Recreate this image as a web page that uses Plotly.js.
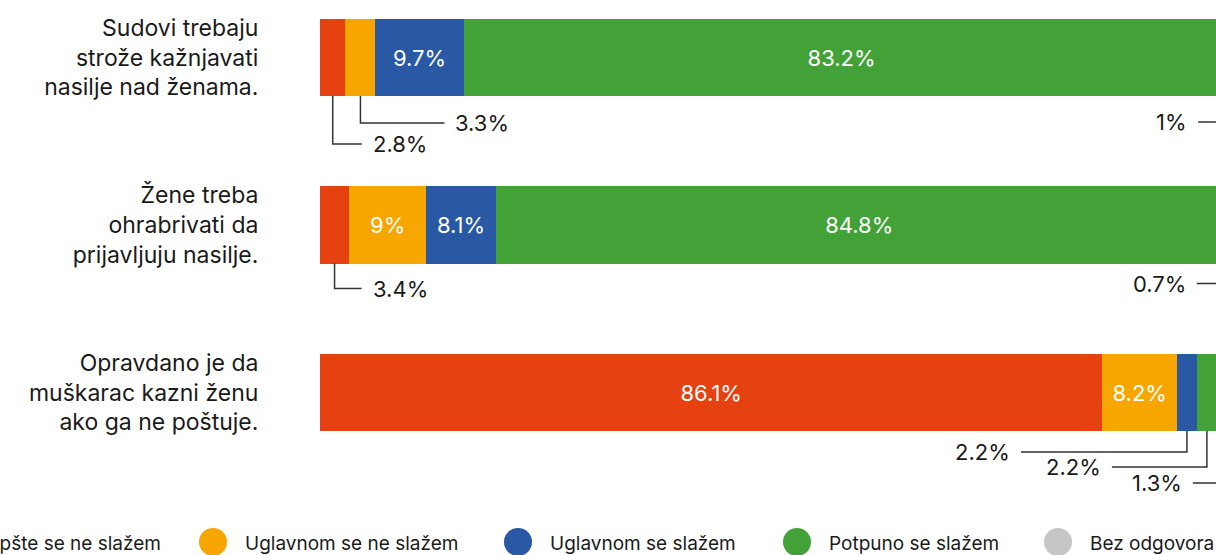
<!DOCTYPE html>
<html><head><meta charset="utf-8">
<script src="https://cdn.plot.ly/plotly-3.0.1.min.js"></script>
<style>html,body{margin:0;padding:0;overflow:hidden;background:#fff}#chart{width:1216px;height:555px}</style>
</head><body><div id="chart"></div>
<script>
// ---- data ----
const categories = [
  "Sudovi trebaju<br>strože kažnjavati<br>nasilje nad ženama.",
  "Žene treba<br>ohrabrivati da<br>prijavljuju nasilje.",
  "Opravdano je da<br>muškarac kazni ženu<br>ako ga ne poštuje."
];
const seriesNames = ["Uopšte se ne slažem", "Uglavnom se ne slažem", "Uglavnom se slažem", "Potpuno se slažem", "Bez odgovora"];
const uopsteNe   = [2.8, 3.4, 86.1];
const uglavnomNe = [3.3, 9, 8.2];
const uglavnomDa = [9.7, 8.1, 2.2];
const potpunoDa  = [83.2, 84.8, 2.2];
const bezOdgovora = [1, 0.7, 1.3];

// ---- style / layout ----
const seriesColors = ['#E54111', '#F7A600', '#2959A4', '#43A237', '#C6C6C6'];
const FONT = 'Inter, "Open Sans", sans-serif';
const W = 1216, H = 555, plotLeft = 320;
const xMax = 98.6;
const yTop = -0.3433, yBottom = 2.9701;
const barWidth = 0.46;
const dxPerPx = xMax / (W - plotLeft);
const dyPerPx = (yBottom - yTop) / H;

// leader-line placement (pixels) for small segments
const leaders = [
  {bar: 0, s: 0, drop: 48, run: 29},
  {bar: 0, s: 1, drop: 27, run: 84},
  {bar: 0, s: 4, drop: 26, run: -26},
  {bar: 1, s: 0, drop: 25, run: 27},
  {bar: 1, s: 4, drop: 20, run: -29},
  {bar: 2, s: 2, drop: 21, run: -166},
  {bar: 2, s: 3, drop: 36, run: -95},
  {bar: 2, s: 4, drop: 52, run: -30}
];
// legend placement (pixel centers of the circles)
const legendCx = [-58, 213, 518, 797, 1058];
const legendCy = 542, legendR = 14;

const seriesValues = [uopsteNe, uglavnomNe, uglavnomDa, potpunoDa, bezOdgovora];
const totals = categories.map((c, i) => seriesValues.reduce((s, arr) => s + arr[i], 0));

const traces = seriesValues.map((vals, k) => ({
  type: 'bar', orientation: 'h', y: categories, x: vals, name: seriesNames[k],
  marker: {color: seriesColors[k], line: {width: 0}},
  width: barWidth,
  text: vals.map(v => v >= 5 ? v + '%' : ''),
  textposition: 'inside', insidetextanchor: 'middle', textangle: 0,
  insidetextfont: {family: FONT, size: 22, color: '#ffffff'},
  hoverinfo: 'skip', showlegend: false
}));

const shapes = [], annotations = [];
leaders.forEach(L => {
  let before = 0;
  for (let k = 0; k < L.s; k++) before += seriesValues[k][L.bar];
  const val = seriesValues[L.s][L.bar];
  const cx = (before + val / 2) / totals[L.bar] * 100;
  const yb = L.bar + barWidth / 2;
  const yd = yb + L.drop * dyPerPx;
  const xe = cx + L.run * dxPerPx;
  shapes.push({type: 'path', xref: 'x', yref: 'y',
    path: `M ${cx} ${yb} L ${cx} ${yd} L ${xe} ${yd}`,
    line: {color: '#333333', width: 1.5}});
  annotations.push({xref: 'x', yref: 'y', x: xe + Math.sign(L.run) * 9 * dxPerPx, y: yd,
    xanchor: L.run > 0 ? 'left' : 'right', yanchor: 'middle', showarrow: false,
    text: val + '%', font: {family: FONT, size: 22, color: '#1a1a1a'}});
});

seriesNames.forEach((n, k) => {
  const cx = legendCx[k];
  shapes.push({type: 'circle', xref: 'paper', yref: 'paper',
    x0: (cx - legendR) / W, x1: (cx + legendR) / W,
    y0: 1 - (legendCy + legendR) / H, y1: 1 - (legendCy - legendR) / H,
    fillcolor: seriesColors[k], line: {width: 0}});
  annotations.push({xref: 'paper', yref: 'paper', x: (cx + 30) / W, y: 1 - (legendCy + 1) / H,
    xanchor: 'left', yanchor: 'middle', showarrow: false, text: n,
    font: {family: FONT, size: 19, color: '#1a1a1a'}});
});

const layout = {
  width: W, height: H, margin: {l: 0, r: 0, t: 0, b: 0},
  paper_bgcolor: '#ffffff', plot_bgcolor: '#ffffff',
  barmode: 'stack', barnorm: 'percent',
  font: {family: FONT, color: '#1a1a1a'},
  xaxis: {domain: [plotLeft / W, 1], range: [0, xMax], showgrid: false, zeroline: false,
    showticklabels: false, showline: false, fixedrange: true},
  yaxis: {type: 'category', range: [yBottom, yTop], showgrid: false, zeroline: false, showline: false,
    ticks: 'outside', ticklen: 56, tickcolor: 'rgba(0,0,0,0)', automargin: false,
    tickfont: {family: FONT, size: 23, color: '#1a1a1a'}, fixedrange: true},
  shapes: shapes, annotations: annotations, showlegend: false
};

Plotly.newPlot('chart', traces, layout, {displayModeBar: false, staticPlot: true});
</script></body></html>
